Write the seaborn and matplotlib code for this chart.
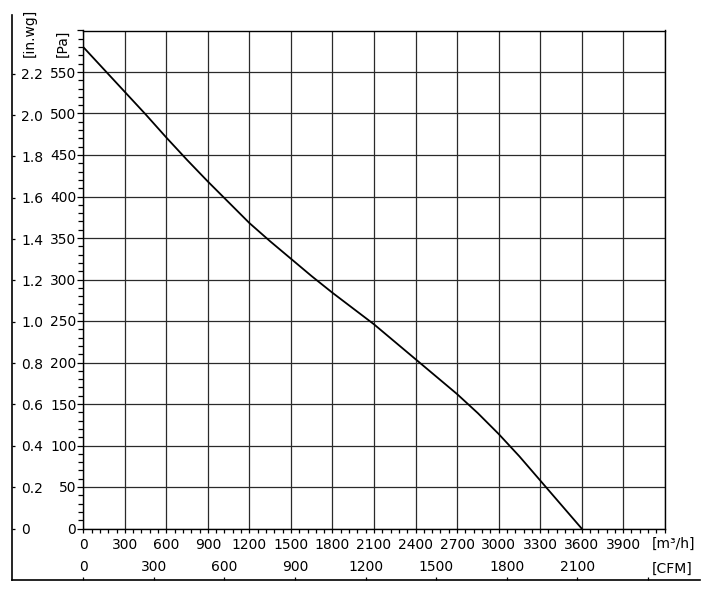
import numpy as np
import seaborn as sns
import matplotlib.pyplot as plt
from matplotlib.ticker import FixedLocator, MultipleLocator

# Fan curve
flow_m3h = [0, 150, 300, 450, 600, 750, 900, 1050, 1200, 1350, 1500, 1650, 1800,
            1950, 2100, 2250, 2400, 2550, 2700, 2850, 3000, 3150, 3300, 3450, 3600]
pressure_pa = [580, 553, 526, 499, 471, 444, 418, 393, 368, 346, 325, 304, 284,
               265, 246, 225, 204, 183, 162, 139, 114, 87, 58, 29, 0]

flow_ticks = list(range(0, 4201, 300))
flow_labels = [str(v) for v in flow_ticks[:-1]] + [""]
pa_ticks = list(range(0, 601, 50))
pa_labels = [str(v) for v in pa_ticks[:-1]] + [""]
inwg_ticks = [0, 0.2, 0.4, 0.6, 0.8, 1.0, 1.2, 1.4, 1.6, 1.8, 2.0, 2.2]
inwg_labels = ["0", "0.2", "0.4", "0.6", "0.8", "1.0", "1.2", "1.4", "1.6", "1.8", "2.0", "2.2"]
cfm_ticks = list(range(0, 2401, 300))
cfm_labels = [str(v) for v in cfm_ticks[:-1]] + [""]

PA_PER_INWG = 249.09
M3H_PER_CFM = 1.699

sns.set_theme(style="white")
plt.rcParams["font.family"] = ["DejaVu Sans"]
plt.rcParams["font.size"] = 10
plt.rcParams["xtick.labelsize"] = 10
plt.rcParams["ytick.labelsize"] = 10

W, H = 716, 590
fig = plt.figure(figsize=(W / 100, H / 100), dpi=100)

# pixel layout
x0, x1, ytop, ybot = 83.3, 664.7, 30.5, 528.5
left_line_x, frame_top, frame_bot, frame_right = 12.3, 15, 580.3, 700

ax = fig.add_axes([x0 / W, (H - ybot) / H, (x1 - x0) / W, (ybot - ytop) / H])
sns.lineplot(x=flow_m3h, y=pressure_pa, ax=ax, color="black", linewidth=1.3)
ax.set_xlim(0, 4200)
ax.set_ylim(0, 600)
ax.xaxis.set_major_locator(FixedLocator(flow_ticks))
ax.set_xticklabels(flow_labels)
ax.xaxis.set_minor_locator(MultipleLocator(60))
ax.yaxis.set_major_locator(FixedLocator(pa_ticks))
ax.set_yticklabels(pa_labels)
ax.yaxis.set_minor_locator(MultipleLocator(10))
ax.grid(True, which="major", color="#2a2a2a", linewidth=0.9)
for s in ax.spines.values():
    s.set_color("black")
    s.set_linewidth(1.0)
ax.tick_params(axis="x", which="both", direction="out", length=3, width=0.9,
               color="black", bottom=True, pad=4, labelcolor="black")
ax.tick_params(axis="y", which="major", direction="out", length=4.5, width=0.9,
               color="black", left=True, pad=0.5, labelcolor="black")
ax.tick_params(axis="y", which="minor", direction="out", length=3.5, width=0.9,
               color="black", left=True)
ax.set_xlabel("")
ax.set_ylabel("")

# in.wg axis on the far left
pa_per_px = 600 / (ybot - ytop)
ax_in = fig.add_axes([0, (H - frame_bot) / H, left_line_x / W, (frame_bot - frame_top) / H])
ax_in.set_facecolor("none")
ax_in.set_ylim(-(frame_bot - ybot) * pa_per_px / PA_PER_INWG,
               (600 + (ytop - frame_top) * pa_per_px) / PA_PER_INWG)
ax_in.set_xticks([])
ax_in.yaxis.tick_right()
ax_in.set_yticks(inwg_ticks)
ax_in.set_yticklabels(inwg_labels, ha="left")
ax_in.tick_params(axis="y", direction="out", length=2.5, width=0.9, color="black",
                  pad=4, labelcolor="black")
for name in ["top", "bottom", "left"]:
    ax_in.spines[name].set_visible(False)
ax_in.spines["right"].set_color("black")
ax_in.spines["right"].set_linewidth(1.2)

# CFM axis along the bottom
m3h_per_px = 4200 / (x1 - x0)
ax_cfm = fig.add_axes([left_line_x / W, 0, (frame_right - left_line_x) / W, (H - frame_bot) / H])
ax_cfm.set_facecolor("none")
ax_cfm.set_xlim(-(x0 - left_line_x) * m3h_per_px / M3H_PER_CFM,
                (4200 + (frame_right - x1) * m3h_per_px) / M3H_PER_CFM)
ax_cfm.set_yticks([])
ax_cfm.xaxis.tick_top()
ax_cfm.set_xticks(cfm_ticks)
ax_cfm.set_xticklabels(cfm_labels)
ax_cfm.tick_params(axis="x", direction="out", length=2.5, width=0.9, color="black",
                   pad=2, labelcolor="black")
for name in ["bottom", "left", "right"]:
    ax_cfm.spines[name].set_visible(False)
ax_cfm.spines["top"].set_color("black")
ax_cfm.spines["top"].set_linewidth(1.2)

# unit labels
fig.text(652 / W, 1 - 544 / H, "[m³/h]", ha="left", va="center", color="black")
fig.text(652 / W, 1 - 569 / H, "[CFM]", ha="left", va="center", color="black")
fig.text(62.5 / W, 1 - 57 / H, "[Pa]", rotation=90, ha="center", va="bottom", color="black")
fig.text(30 / W, 1 - 57 / H, "[in.wg]", rotation=90, ha="center", va="bottom", color="black")

fig.savefig("out.png", dpi=100, facecolor="white")
